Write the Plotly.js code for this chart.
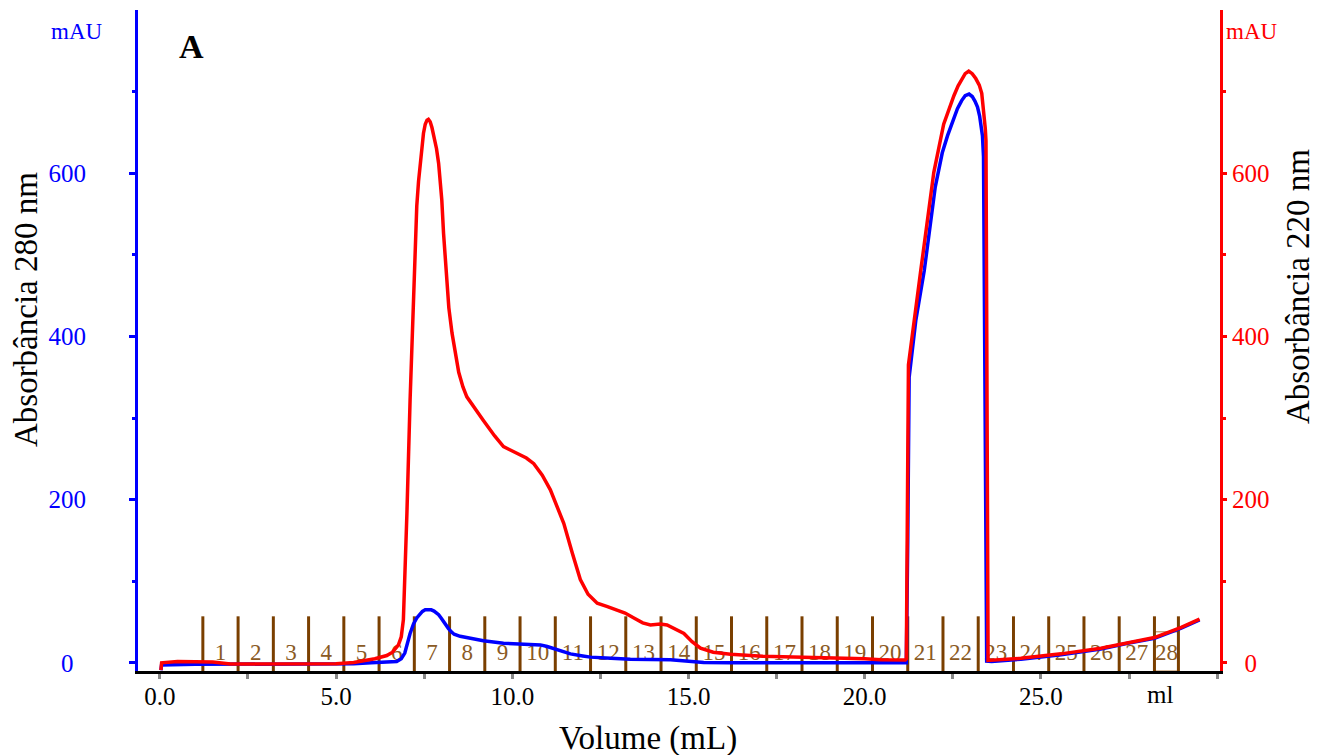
<!DOCTYPE html>
<html>
<head>
<meta charset="utf-8">
<script src="https://cdn.plot.ly/plotly-3.0.1.min.js"></script>
<style>html,body{margin:0;padding:0;background:#fff;}#chart{width:1326px;height:755px;}</style>
</head>
<body>
<div id="chart"></div>
<script>
// Absorbance at 280 nm (blue, left axis)
const vol280 = [0.03,0.05,1,3,5,5.5,6.0,6.5,6.72,6.85,6.95,7.1,7.2,7.29,7.38,7.45,7.53,7.62,7.7,7.78,7.85,7.91,7.98,8.05,8.12,8.19,8.27,8.35,8.52,8.8,9.18,9.75,10.1,10.51,10.8,10.99,11.3,11.65,12.0,12.22,12.8,13.35,14.49,15.0,15.43,16.19,18,20,21.1,21.18,21.22,21.26,21.45,21.69,22.0,22.2,22.35,22.5,22.63,22.75,22.85,22.96,23.05,23.13,23.2,23.26,23.3,23.34,23.37,23.42,23.46,23.6,24.43,25.57,26.7,27.46,28.22,28.98,29.5];
const abs280 = [-9,-2.5,-1.8,-1.8,-1.5,-1.2,0,1,1.6,5,12,36,48,55,60,63,65,65.5,65,63.5,61.5,59,55,50,46,42,38,35,32.5,30,27,24,23.5,23,22,20,16,11,8.5,7,5.5,4.5,3.7,2,0.4,0,-0.3,-0.5,-0.5,0,150,350,420,481,583,625,646,665,679,689,695,697,694,688,681,670,660,646,620,300,2,1.6,4.5,10,17,24,30,42.5,52.6];

// Absorbance at 220 nm (red, right axis)
const vol220 = [0.03,0.05,0.5,1.5,2,5.0,5.5,5.78,6.1,6.44,6.6,6.77,6.85,6.91,6.96,7.01,7.1,7.15,7.2,7.25,7.29,7.34,7.39,7.44,7.48,7.53,7.58,7.62,7.67,7.72,7.78,7.85,7.91,7.95,8.0,8.05,8.1,8.14,8.2,8.29,8.38,8.48,8.6,8.71,9.18,9.5,9.75,10.13,10.4,10.61,10.85,11.08,11.46,11.7,11.93,12.15,12.41,12.7,12.97,13.2,13.45,13.7,13.92,14.2,14.39,14.6,14.87,15.1,15.34,15.7,16.19,17.1,18.1,19.5,20.0,20.45,21.15,21.18,21.2,21.24,21.59,21.96,22.24,22.4,22.53,22.65,22.75,22.85,22.95,23.05,23.15,23.25,23.32,23.38,23.42,23.44,23.47,23.5,24.43,25.57,26.7,27.46,28.22,28.98,29.5];
const abs220 = [-9,0,1.5,1,-1.5,-1,0.5,2.4,5,9,13,22,32,53,110,183,322,385,444,510,560,590,612,635,649,660,665,666,663,656,645,630,612,596,567,526,490,465,435,404,378,356,338,326,297,278,265,257,251,244,230,212,171,135,102,84,73,69,65,61,55,49,46.5,47.5,46.5,42,36,26,18,13,10.5,8,7,6,5,3.7,3.5,5,200,365,481,601,660,680,695,707,715,722,725,722,716,708,698,677,655,640,300,3,5.5,11,18,25,31,43.5,53.6];

// Fraction collector boundaries (mL) and fraction labels
const fractionEdges = [1.22,2.22,3.22,4.22,5.22,6.22,7.22,8.22,9.22,10.22,11.22,12.22,13.22,14.22,15.22,16.22,17.22,18.22,19.22,20.22,21.22,22.22,23.22,24.22,25.22,26.22,27.22,28.22,28.9];
const fractionLabels = ["1","2","3","4","5","6","7","8","9","10","11","12","13","14","15","16","17","18","19","20","21","22","23","24","25","26","27","28"];

// Axis ticks
const xTickVals = [0,2.5,5,7.5,10,12.5,15,17.5,20,22.5,25,27.5,30];
const xTickText = ["0.0","","5.0","","10.0","","15.0","","20.0","","25.0","",""];
const yTickVals = [0,200,400,600];
const yTickTextLeft = ["0\u00a0\u00a0","200","400","600"];
const yTickTextRight = ["\u00a0\u00a00","200","400","600"];
const yMinorVals = [100,300,500,700];

const FONT = "Liberation Serif, Times New Roman, serif";
const markTop = 57;
const markBottom = -10;

// fraction marker segments
const fx = [], fy = [];
fractionEdges.forEach(e => { fx.push(e, e, null); fy.push(markBottom, markTop, null); });
const labelX = fractionLabels.map((_, i) => (fractionEdges[i] + fractionEdges[i+1]) / 2);
const labelY = fractionLabels.map(() => 10);

const traces = [
  {x: fx, y: fy, mode: 'lines', line: {color: '#7a3f00', width: 3}, hoverinfo: 'skip', yaxis: 'y'},
  {x: labelX, y: labelY, mode: 'text', text: fractionLabels, textposition: 'middle center',
   textfont: {family: FONT, size: 23, color: '#8a5a24'}, hoverinfo: 'skip', yaxis: 'y', cliponaxis: false},
  {x: vol220, y: abs220, mode: 'lines', name: '220 nm', line: {color: '#ff0000', width: 3.5}, yaxis: 'y2'},
  {x: vol280, y: abs280, mode: 'lines', name: '280 nm', line: {color: '#0000ff', width: 3.5}, yaxis: 'y'}
];

const layout = {
  width: 1326, height: 755,
  margin: {l: 138, r: 106, t: 10, b: 84, pad: 0},
  paper_bgcolor: '#ffffff', plot_bgcolor: '#ffffff',
  showlegend: false,
  font: {family: FONT, color: '#000'},
  xaxis: {
    range: [-0.62, 30.08], showgrid: false, zeroline: false,
    showline: true, linecolor: '#000', linewidth: 3,
    ticks: 'outside', ticklen: 5, tickwidth: 3, tickcolor: '#888888',
    tickmode: 'array', tickvals: xTickVals, ticktext: xTickText,
    ticklabelstandoff: -4,
    tickfont: {family: FONT, size: 25, color: '#000'}
  },
  yaxis: {
    range: [-10, 800], showgrid: false, zeroline: false,
    showline: true, linecolor: '#0000ff', linewidth: 3,
    ticks: 'outside', ticklen: 6, tickwidth: 3, tickcolor: '#0000ff',
    tickmode: 'array', tickvals: yTickVals, ticktext: yTickTextLeft,
    minor: {tickmode: 'array', tickvals: yMinorVals, ticks: 'outside', ticklen: 3, tickwidth: 3, tickcolor: '#0000ff'},
    ticklabelstandoff: 38,
    tickfont: {family: FONT, size: 25, color: '#0000ff'}
  },
  yaxis2: {
    range: [-10, 800], overlaying: 'y', side: 'right', showgrid: false, zeroline: false,
    showline: true, linecolor: '#ff0000', linewidth: 3,
    ticks: 'outside', ticklen: 4, tickwidth: 3, tickcolor: '#ff0000',
    tickmode: 'array', tickvals: yTickVals, ticktext: yTickTextRight,
    minor: {tickmode: 'array', tickvals: yMinorVals, ticks: 'outside', ticklen: 3, tickwidth: 3, tickcolor: '#ff0000'},
    tickfont: {family: FONT, size: 25, color: '#ff0000'}
  },
  shapes: [
    {type: 'rect', xref: 'x', yref: 'y', x0: fractionEdges[27], x1: fractionEdges[28], y0: markBottom, y1: 38,
     line: {color: '#b07a40', width: 1}, layer: 'below'}
  ],
  annotations: [
    {text: 'mAU', xref: 'paper', yref: 'paper', x: -0.0564, y: 0.968, xanchor: 'center', yanchor: 'middle', showarrow: false,
     font: {family: FONT, size: 23, color: '#0000ff'}},
    {text: 'mAU', xref: 'paper', yref: 'paper', x: 1.0296, y: 0.968, xanchor: 'center', yanchor: 'middle', showarrow: false,
     font: {family: FONT, size: 23, color: '#ff0000'}},
    {text: '<b>A</b>', xref: 'paper', yref: 'paper', x: 0.0499, y: 0.9455, xanchor: 'center', yanchor: 'middle', showarrow: false,
     font: {family: FONT, size: 34, color: '#000'}},
    {text: 'Volume (mL)', xref: 'paper', yref: 'paper', x: 0.4713, y: -0.1014, xanchor: 'center', yanchor: 'middle', showarrow: false,
     font: {family: FONT, size: 33, color: '#000'}},
    {text: 'Absorbância 280 nm', xref: 'paper', yref: 'paper', x: -0.1035, y: 0.5461, xanchor: 'center', yanchor: 'middle', textangle: -90, showarrow: false,
     font: {family: FONT, size: 33, color: '#000'}},
    {text: 'Absorbância 220 nm', xref: 'paper', yref: 'paper', x: 1.0721, y: 0.581, xanchor: 'center', yanchor: 'middle', textangle: -90, showarrow: false,
     font: {family: FONT, size: 33, color: '#000'}},
    {text: 'ml', xref: 'paper', yref: 'paper', x: 0.9445, y: -0.0363, xanchor: 'center', yanchor: 'middle', showarrow: false,
     font: {family: FONT, size: 25, color: '#000'}}
  ]
};

Plotly.newPlot('chart', traces, layout, {staticPlot: true, displayModeBar: false});
</script>
</body>
</html>
